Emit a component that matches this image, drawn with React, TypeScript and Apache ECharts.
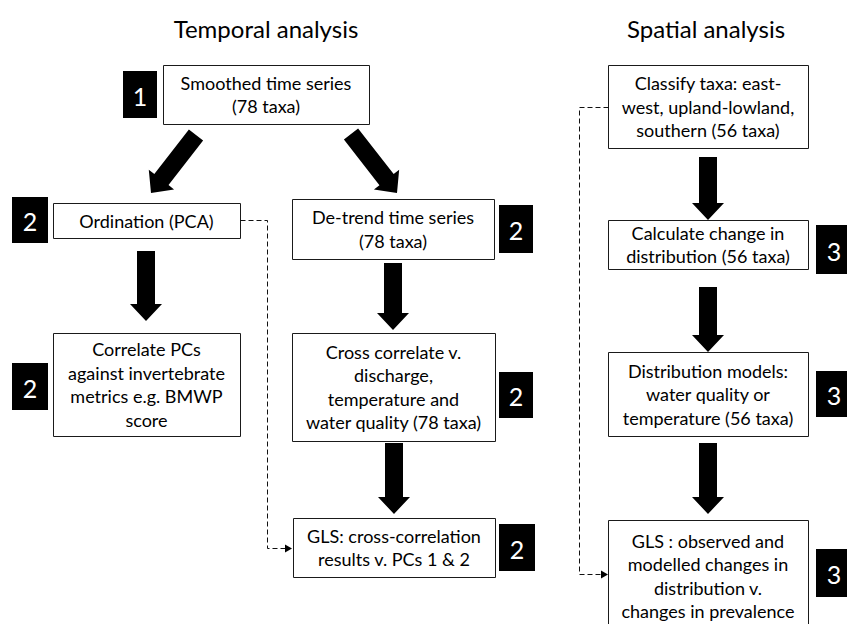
import React, { useEffect, useRef } from "react";
import * as echarts from "echarts";

// ---- content ----
const sectionTitles = ["Temporal analysis", "Spatial analysis"];

const boxLabels = [
  "Smoothed time series\n(78 taxa)",
  "Ordination (PCA)",
  "Correlate PCs\nagainst invertebrate\nmetrics e.g. BMWP\nscore",
  "De-trend time series\n(78 taxa)",
  "Cross correlate v.\ndischarge,\ntemperature and\nwater quality (78 taxa)",
  "GLS: cross-correlation\nresults v. PCs 1 & 2",
  "Classify taxa: east-\nwest, upland-lowland,\nsouthern (56 taxa)",
  "Calculate change in\ndistribution (56 taxa)",
  "Distribution models:\nwater quality or\ntemperature (56 taxa)",
  "GLS : observed and\nmodelled changes in\ndistribution v.\nchanges in prevalence",
];

const stepNumbers = ["1", "2", "2", "2", "2", "2", "3", "3", "3"];

// ---- layout (pixels) ----
const titlePos = [
  [266, 28],
  [706, 28],
];

// [x0, y0, x1, y1]
const boxRects = [
  [163, 65, 369, 124],
  [53, 203, 240, 238],
  [53, 333, 240, 436],
  [292, 199, 494, 259],
  [292, 333, 495, 441],
  [293, 518, 495, 577],
  [608, 65, 808, 148],
  [608, 220, 808, 269],
  [608, 352, 808, 436],
  [608, 520, 808, 632],
];

const badgeRects = [
  [123, 71, 157, 118],
  [12, 197, 48, 243],
  [12, 363, 48, 410],
  [499, 205, 533, 253],
  [499, 372, 533, 418],
  [499, 524, 535, 571],
  [816, 225, 852, 274],
  [816, 371, 852, 417],
  [816, 549, 852, 597],
];

// block arrows: [startX, startY, tipX, tipY]
const blockArrows = [
  [196, 135, 151, 193],
  [351, 134, 397, 193],
  [146, 251, 146, 321],
  [393, 263, 393, 330],
  [394, 443, 394, 514],
  [708, 157, 708, 220],
  [708, 287, 708, 352],
  [708, 443, 708, 514],
];

// dashed connectors: polyline points
const dashedLinks = [
  [
    [240, 220],
    [267, 220],
    [267, 548],
    [292, 548],
  ],
  [
    [608, 107],
    [579, 107],
    [579, 574],
    [608, 574],
  ],
];

const FONT = "Lato, 'Open Sans', sans-serif";

function arrowPolygon(a: number[], shaftW: number, headW: number, headL: number) {
  const [x0, y0, x1, y1] = a;
  const dx = x1 - x0;
  const dy = y1 - y0;
  const len = Math.sqrt(dx * dx + dy * dy);
  const ux = dx / len;
  const uy = dy / len;
  const px = -uy;
  const py = ux;
  const bx = x1 - ux * headL;
  const by = y1 - uy * headL;
  const s = shaftW / 2;
  const h = headW / 2;
  return [
    [x0 + px * s, y0 + py * s],
    [bx + px * s, by + py * s],
    [bx + px * h, by + py * h],
    [x1, y1],
    [bx - px * h, by - py * h],
    [bx - px * s, by - py * s],
    [x0 - px * s, y0 - py * s],
  ];
}

export default function App() {
  const ref = useRef<HTMLDivElement>(null);
  useEffect(() => {
    if (!ref.current) return;
    const chart = echarts.init(ref.current, undefined, { renderer: "svg" });
    const elements: any[] = [];

    sectionTitles.forEach((t, i) => {
      elements.push({
        type: "text",
        x: titlePos[i][0],
        y: titlePos[i][1],
        style: {
          text: t,
          fill: "#000",
          font: `24px ${FONT}`,
          textAlign: "center",
          textVerticalAlign: "middle",
        },
      });
    });

    boxRects.forEach((r, i) => {
      elements.push({
        type: "rect",
        shape: { x: r[0] + 0.5, y: r[1] + 0.5, width: r[2] - r[0], height: r[3] - r[1] },
        style: { fill: "#fff", stroke: "#1a1a1a", lineWidth: 1 },
      });
      elements.push({
        type: "text",
        x: (r[0] + r[2]) / 2,
        y: (r[1] + r[3]) / 2,
        style: {
          text: boxLabels[i],
          fill: "#000",
          font: `18px ${FONT}`,
          lineHeight: 23.5,
          textAlign: "center",
          textVerticalAlign: "middle",
        },
      });
    });

    badgeRects.forEach((r, i) => {
      elements.push({
        type: "rect",
        shape: { x: r[0], y: r[1], width: r[2] - r[0], height: r[3] - r[1] },
        style: { fill: "#000" },
      });
      elements.push({
        type: "text",
        x: (r[0] + r[2]) / 2,
        y: (r[1] + r[3]) / 2 + 1,
        style: {
          text: stepNumbers[i],
          fill: "#fff",
          font: `25px ${FONT}`,
          textAlign: "center",
          textVerticalAlign: "middle",
        },
      });
    });

    blockArrows.forEach((a) => {
      elements.push({
        type: "polygon",
        shape: { points: arrowPolygon(a, 18, 32, 17) },
        style: { fill: "#000" },
      });
    });

    dashedLinks.forEach((pts) => {
      const last = pts[pts.length - 1];
      const line = pts.map((p, j) => (j === pts.length - 1 ? [p[0] - 6, p[1]] : p));
      elements.push({
        type: "polyline",
        shape: { points: line.map((p) => [p[0] + 0.5, p[1] + 0.5]) },
        style: { stroke: "#111", lineWidth: 1, lineDash: [5, 3], fill: null },
      });
      elements.push({
        type: "polygon",
        shape: {
          points: [
            [last[0], last[1] + 0.5],
            [last[0] - 7, last[1] - 3.5],
            [last[0] - 7, last[1] + 4.5],
          ],
        },
        style: { fill: "#000" },
      });
    });

    chart.setOption({
      animation: false,
      backgroundColor: "#fff",
      graphic: { elements },
    });
    return () => chart.dispose();
  }, []);
  return (
    <div
      ref={ref}
      style={{ position: "fixed", left: 0, top: 0, width: 847, height: 624, background: "#fff" }}
    />
  );
}
